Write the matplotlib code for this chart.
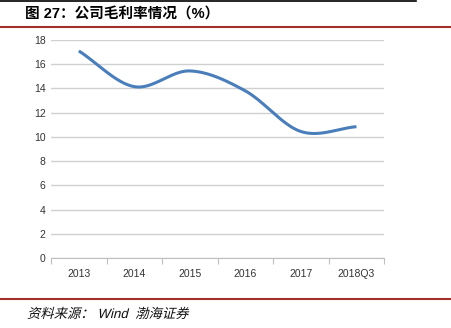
import numpy as np
import matplotlib.pyplot as plt
from matplotlib.lines import Line2D
from matplotlib.textpath import TextPath
from matplotlib.patches import PathPatch
from matplotlib.font_manager import FontProperties
from matplotlib.transforms import Affine2D

plt.rcParams['font.family'] = ['Liberation Sans', 'Noto Sans CJK SC']

periods = ['2013', '2014', '2015', '2016', '2017', '2018Q3']
gross_margin = [17.1, 14.15, 15.45, 13.8, 10.45, 10.85]


def smooth(xs, ys, n=40):
    # Catmull-Rom curve through the points, like a spreadsheet "smoothed line"
    px = np.concatenate([[2 * xs[0] - xs[1]], xs, [2 * xs[-1] - xs[-2]]])
    py = np.concatenate([[2 * ys[0] - ys[1]], ys, [2 * ys[-1] - ys[-2]]])
    outx, outy = [], []
    t = np.linspace(0, 1, n)
    for i in range(1, len(px) - 2):
        for p, out in ((px, outx), (py, outy)):
            p0, p1, p2, p3 = p[i - 1], p[i], p[i + 1], p[i + 2]
            out.extend(0.5 * (2 * p1 + (-p0 + p2) * t
                              + (2 * p0 - 5 * p1 + 4 * p2 - p3) * t ** 2
                              + (-p0 + 3 * p1 - 3 * p2 + p3) * t ** 3))
    return np.array(outx), np.array(outy)


fig = plt.figure(figsize=(4.52, 3.28), dpi=100)
ax = fig.add_axes([0.113, 0.213, 0.737, 0.665])

x = np.arange(len(periods))
sx, sy = smooth(x.astype(float), np.array(gross_margin))
ax.plot(sx, sy, color='#4a7ebb', lw=2.2, solid_capstyle='butt', zorder=3)

ax.set_xlim(-0.5, len(periods) - 0.5)
ax.set_ylim(0, 18)
ax.set_yticks(range(0, 19, 2))
ax.yaxis.grid(True, color='#d0d0d0', lw=1)
ax.set_axisbelow(True)
for s in ['top', 'right', 'left']:
    ax.spines[s].set_visible(False)
ax.spines['bottom'].set_color('#bfbfbf')
ax.set_xticks(np.arange(-0.5, len(periods)), minor=False)
ax.set_xticklabels([])
ax.set_xticks(x, minor=True)
ax.set_xticklabels(periods, minor=True)
ax.tick_params(axis='x', which='major', length=4, color='#bfbfbf', direction='out')
ax.tick_params(axis='x', which='minor', length=0, pad=8, labelsize=7.5, labelcolor='#333333')
ax.tick_params(axis='y', length=0, labelsize=7.5, labelcolor='#333333', pad=4)

# header and footer rules
fig.add_artist(Line2D([0, 0.92], [0.996, 0.996], color='black', lw=1.2))
fig.add_artist(Line2D([0, 1], [0.917, 0.917], color='#a0302a', lw=1.5))
fig.add_artist(Line2D([0, 1], [0.088, 0.088], color='#a0302a', lw=1.5))

fig.text(0.055, 0.955, '图 27：公司毛利率情况（%）', fontsize=10.5, fontweight='bold',
         va='center', ha='left')

# slanted source line (the CJK font has no italic face)
src = TextPath((0, 0), '资料来源： Wind  渤海证券', size=9.6,
               prop=FontProperties(family=['Liberation Sans', 'Noto Sans CJK SC']))
tr = Affine2D().skew_deg(14, 0).scale(1 / 72).translate(0.27, 0.1) + fig.dpi_scale_trans
fig.add_artist(PathPatch(src, transform=tr, facecolor='#111111', edgecolor='none'))

fig.savefig('out.png', dpi=100)
